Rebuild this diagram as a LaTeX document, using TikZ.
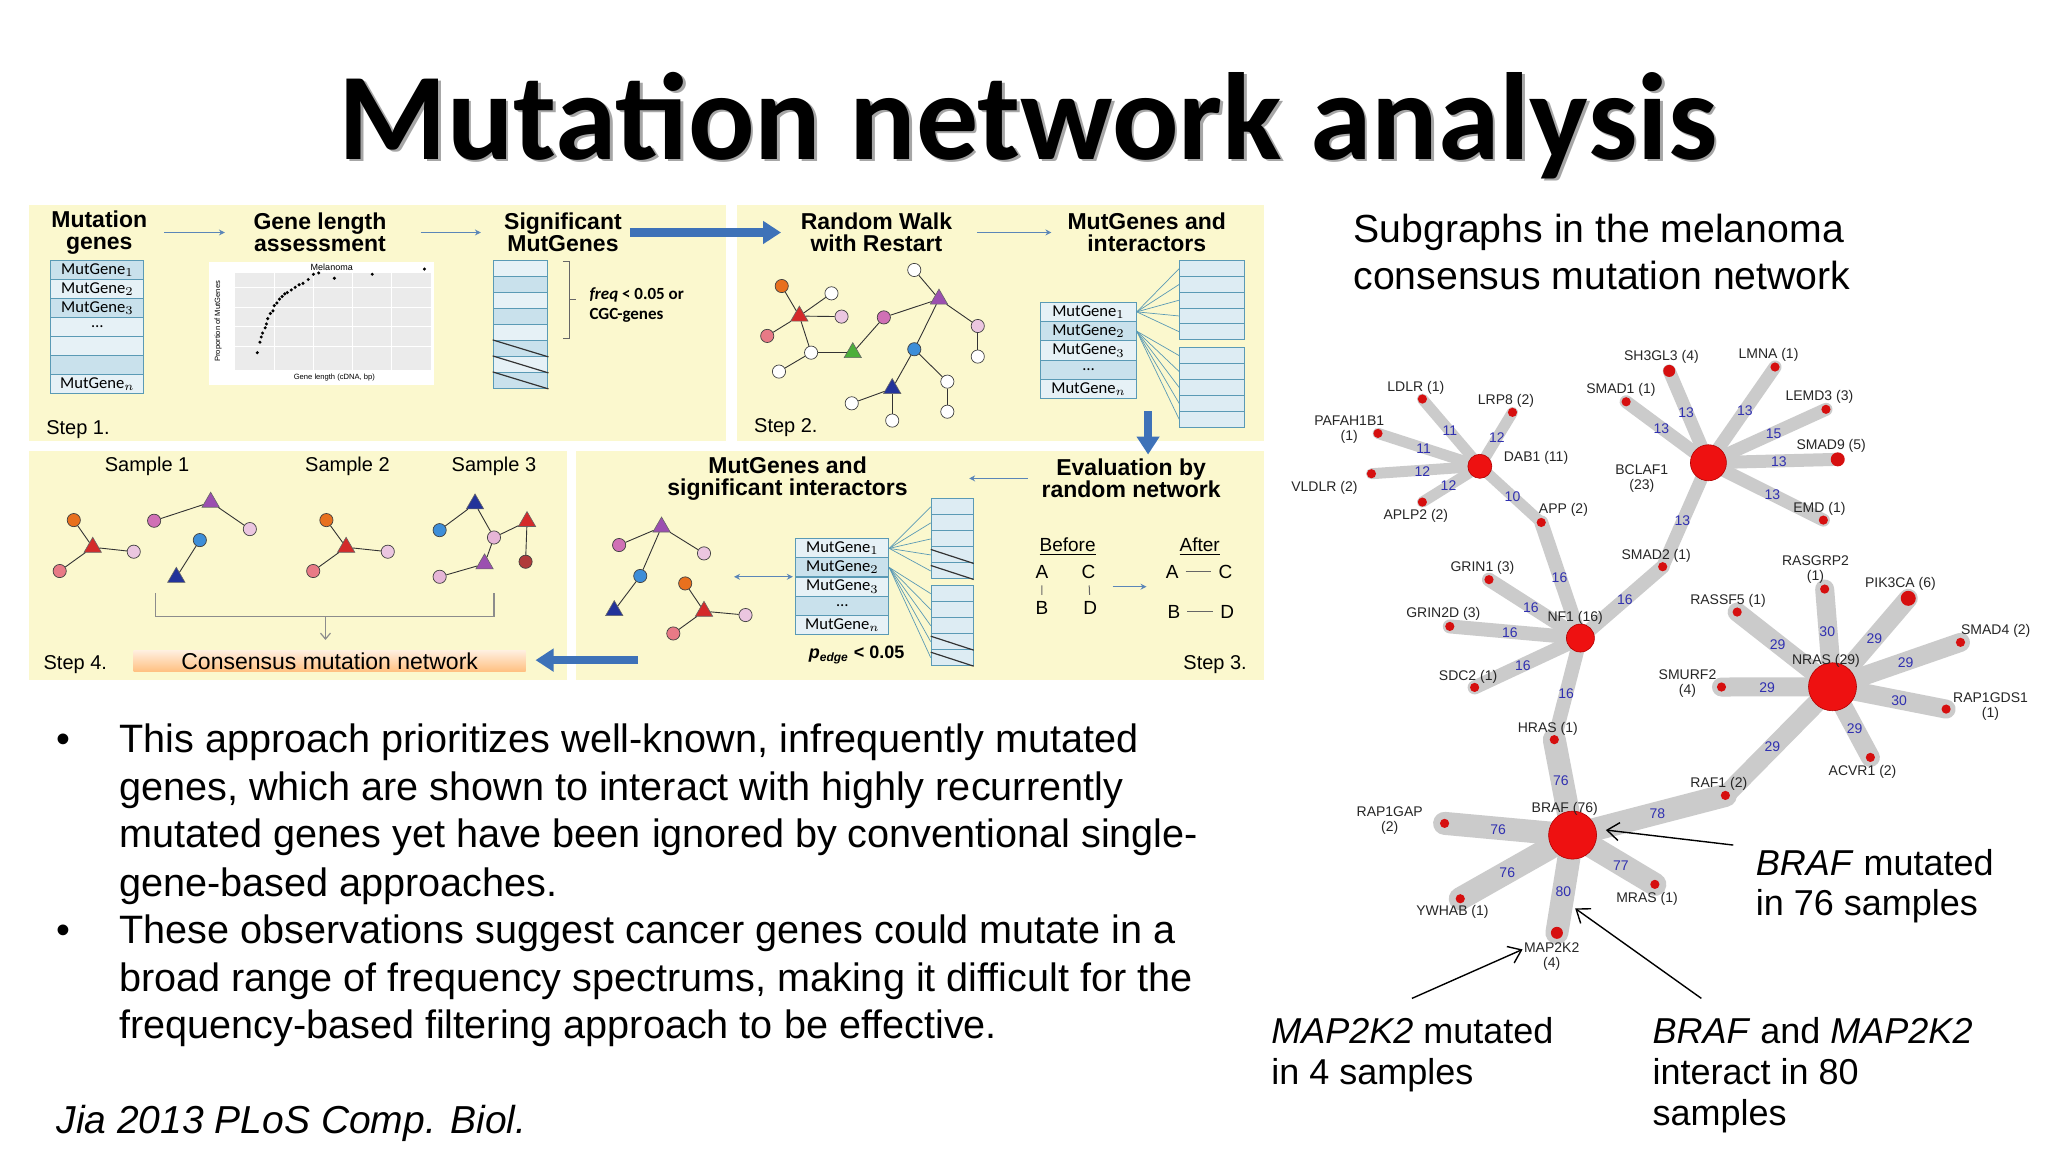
\documentclass[tikz,border=0pt]{standalone}
\usepackage{fontspec}
\setmainfont{Liberation Sans}
\newfontfamily\carl{Carlito}
\usetikzlibrary{arrows.meta,shapes.geometric}
\pgfdeclarelayer{back}\pgfdeclarelayer{bg}\pgfsetlayers{back,bg,main}
\definecolor{panelY}{HTML}{FBF8CE}
\definecolor{arrB}{HTML}{3E72B8}
\definecolor{arrS}{HTML}{5B86B8}
\definecolor{rowA}{HTML}{C9E1EC}
\definecolor{rowB}{HTML}{E6F1F6}
\definecolor{rowE}{HTML}{5A9AB5}
\definecolor{cOr}{HTML}{E8701E}
\definecolor{cRed}{HTML}{D42A2A}
\definecolor{cPur}{HTML}{9B4FB0}
\definecolor{cPink}{HTML}{D070B5}
\definecolor{cPl}{HTML}{EBC6E0}
\definecolor{cPr}{HTML}{E87A86}
\definecolor{cBl}{HTML}{3D8ED8}
\definecolor{cNv}{HTML}{22339A}
\definecolor{cGr}{HTML}{4CAF3A}
\definecolor{cDr}{HTML}{B03A3A}
\definecolor{netG}{HTML}{CBCBCB}
\definecolor{netR}{HTML}{EE1111}
\definecolor{wBlue}{HTML}{3030B0}
\begin{document}
\begin{tikzpicture}[x=0.653pt,y=-0.653pt,
  head/.style={font=\bfseries\fontsize{11.5}{11}\selectfont,align=center},
  steplbl/.style={font=\fontsize{10}{11}\selectfont,anchor=west},
  trow/.style={draw=rowE,line width=0.5pt,inner sep=0pt,anchor=north west,font=\carl\fontsize{8.3}{9}\selectfont},
  gn/.style={circle,draw=black!75,line width=0.35pt,inner sep=0pt,minimum size=6.6pt,fill=#1},
  gt/.style={regular polygon,regular polygon sides=3,draw=black!60,line width=0.3pt,inner sep=0pt,minimum size=10pt,fill=#1},
  ge/.style={draw=black!80,line width=0.45pt},
  bigarrow/.style={draw=arrB,line width=4.2pt,-{Triangle[length=9pt,width=11pt]}},
  smallarrow/.style={draw=arrS,line width=0.6pt,-{Stealth[length=3pt,width=3pt]}},
  hub/.style={circle,fill=netR,draw=red!70!black,line width=0.3pt,inner sep=0pt,minimum size=#1},
  leaf/.style={circle,fill=netR!90!black,inner sep=0pt,minimum size=#1},
  nl/.style={font=\fontsize{7}{7.5}\selectfont,align=center,text=black!85},
  wl/.style={font=\fontsize{7}{7.5}\selectfont,text=wBlue},
  nedge/.style={draw=netG,line width=#1,line cap=round},
  body/.style={font=\fontsize{19.8}{23.8}\selectfont,anchor=base west,inner sep=0pt},
  rtext/.style={font=\fontsize{19.6}{23.8}\selectfont,anchor=base west,inner sep=0pt},
  antext/.style={font=\fontsize{18}{22}\selectfont,anchor=base west,inner sep=0pt},
  annot/.style={draw=black,line width=0.7pt,-{Straight Barb[length=6pt,width=9pt]}}
]
\useasboundingbox (0,0) rectangle (1568,882);
\begin{pgfonlayer}{back}
\fill[white] (0,0) rectangle (1568,882);
\end{pgfonlayer}
% title
\node[font=\carl\bfseries\fontsize{62}{64}\selectfont,text=black!35,anchor=base] at (789,124) {Mutation network analysis};
\node[font=\carl\bfseries\fontsize{62}{64}\selectfont,anchor=base] (title) at (787,122) {Mutation network analysis};
% panels
\fill[panelY] (22,157) rectangle (556,338);
\fill[panelY] (564,157) rectangle (968,338);
\fill[panelY] (22,345) rectangle (434,521);
\fill[panelY] (441,345) rectangle (968,521);
% ---- Step 1
\node[head] (h1) at (76,178) {Mutation\\genes};
\node[head] (h2) at (245,178) {Gene length\\assessment};
\node[head] (h3) at (431,178) {Significant\\MutGenes};
\draw[smallarrow] (125.8,178) coordinate (a1s) -- (172.2,178) coordinate (a1e);
\draw[smallarrow] (322,178) coordinate (a2s) -- (368.2,178) coordinate (a2e);
\foreach \i/\t/\c in {0/MutGene$_1$/rowA,1/MutGene$_2$/rowB,2/MutGene$_3$/rowA,3/\dots/rowB,4//rowB,5//rowA,6/MutGene$_n$/rowB}
  \node[trow,fill=\c,minimum width=46.6pt,minimum height=9.5pt] (ta\i) at (38.5,199+\i*14.57) {\t};
% plot
\fill[white] (159.7,200.3) rectangle (332.6,294.7);
\fill[black!8] (180,209) rectangle (330,283);
\foreach \yy in {220,235,250,265} \draw[white,line width=0.4pt] (180,\yy) -- (330,\yy);
\foreach \xx in {210,240,270,300} \draw[white,line width=0.4pt] (\xx,209) -- (\xx,283);
\node[font=\fontsize{4.5}{5}\selectfont] (pt) at (254,204.5) {Melanoma};
\node[font=\fontsize{3.8}{4}\selectfont] (px) at (256,289) {Gene length (cDNA, bp)};
\node[font=\fontsize{3.8}{4}\selectfont,rotate=90] (py) at (167,246) {Proportion of MutGenes};
\foreach \xx/\yy in {197/270,199/262,200/258,201/255,203/251,204/248,205/244,207/240,209/238,210/234,212/232,214/229,216/227,218/225,220/224,223/222,226/220,229/218,232/217,236/214,240/210,244/209,256/213,285/210,325/206}
  \fill (\xx,\yy) circle (1.3);
% table 2
\foreach \i/\c in {0/rowB,1/rowA,2/rowB,3/rowA,4/rowB,5/rowA,6/rowB,7/rowA}
  \node[trow,fill=\c,minimum width=27.4pt,minimum height=8pt] (tb\i) at (377.2,199+\i*12.25) {};
\foreach \i in {5,6,7} \draw[black!80,line width=0.6pt] (tb\i.north west) -- (tb\i.south east);
\draw[black!60,line width=0.5pt] (431,200) -- (436,200) -- (436,259) -- (431,259) (436,229.5) -- (441,229.5);
\node[font=\carl\bfseries\fontsize{8.5}{10}\selectfont,align=left,anchor=north west] (frq) at (446,215) {\textit{freq} < 0.05 or\\CGC-genes};
\node[steplbl] (s1) at (30,329) {Step 1.};
\draw[bigarrow] (482,178) coordinate (ba1) -- (598,178) coordinate (ba1e);
% ---- Step 2
\node[head] (h4) at (671,178) {Random Walk\\with Restart};
\node[head] (h5) at (878,178) {MutGenes and\\interactors};
\draw[smallarrow] (748,178) coordinate (a3s) -- (805,178) coordinate (a3e);
\node[gn=cOr] (g1) at (598.5,219) {};
\node[gt=cRed] (g2) at (612,242) {};
\node[gn=white] (g3) at (636.6,224.6) {};
\node[gn=cPl] (g4) at (644.3,242.4) {};
\node[gn=cPr] (g5) at (587.4,257.2) {};
\node[gn=white] (g6) at (621,270) {};
\node[gn=white] (g7) at (596.4,284.5) {};
\node[gt=cGr] (g8) at (652.9,270) {};
\node[gn=cPink] (g9) at (676.7,243) {};
\node[gt=cPur] (g10) at (718.9,229) {};
\node[gn=white] (g11) at (700,206.7) {};
\node[gn=cPl] (g12) at (748.6,249.6) {};
\node[gn=white] (g13) at (748.6,273) {};
\node[gn=cBl] (g14) at (700,267.4) {};
\node[gn=white] (g15) at (725.3,292.2) {};
\node[gn=white] (g16) at (725.3,315.2) {};
\node[gt=cNv] (g17) at (683.1,297.5) {};
\node[gn=white] (g18) at (652.1,308.8) {};
\node[gn=white] (g19) at (683.1,322) {};
\foreach \a/\b in {g1/g2,g2/g3,g2/g4,g2/g5,g2/g6,g6/g7,g6/g8,g8/g9,g9/g10,g10/g11,g10/g12,g12/g13,g10/g14,g14/g15,g15/g16,g14/g17,g17/g18,g17/g19}
  \draw[ge] (\a) -- (\b);
\foreach \i/\t/\c in {0/MutGene$_1$/rowB,1/MutGene$_2$/rowA,2/MutGene$_3$/rowB,3/\dots/rowA,4/MutGene$_n$/rowB}
  \node[trow,fill=\c,minimum width=47.7pt,minimum height=9.66pt] (tc\i) at (796.5,231+\i*14.8) {\t};
\foreach \i in {0,...,4} {
  \node[trow,fill=rowB!70!rowA,minimum width=32.2pt,minimum height=7.94pt] (bu\i) at (903,199+\i*12.16) {};
  \node[trow,fill=rowB!70!rowA,minimum width=32.2pt,minimum height=8pt] (bd\i) at (903,265.9+\i*12.26) {};
  \draw[rowE,line width=0.35pt] (tc0.east) -- (bu\i.west);
  \draw[rowE,line width=0.35pt] (tc1.east) -- (bd\i.west);
}
\node[steplbl] (s2) at (572,327) {Step 2.};
\draw[bigarrow] (879,315) coordinate (ba2) -- (879,348) coordinate (ba2e);
% ---- Step 3
\node[head] (h6) at (603,366.5) {MutGenes and\\significant interactors};
\node[head] (h7) at (866,366.5) {Evaluation by\\random network};
\draw[smallarrow] (787,366.3) coordinate (a4s) -- (742,366.3) coordinate (a4e);
\node[gt=cPur] (k1) at (506.5,403.5) {};
\node[gn=cPink] (k2) at (474,417.3) {};
\node[gn=cPl] (k3) at (539,423.7) {};
\node[gn=cBl] (k4) at (490.2,441) {};
\node[gt=cNv] (k5) at (470.3,467.5) {};
\node[gn=cOr] (k6) at (524.6,446.7) {};
\node[gt=cRed] (k7) at (539,468) {};
\node[gn=cPl] (k8) at (570.8,470.9) {};
\node[gn=cPr] (k9) at (515.5,485) {};
\foreach \a/\b in {k1/k2,k1/k3,k1/k4,k4/k5,k6/k7,k7/k8,k7/k9} \draw[ge] (\a) -- (\b);
\foreach \i/\t/\c in {0/MutGene$_1$/rowB,1/MutGene$_2$/rowA,2/MutGene$_3$/rowB,3/\dots/rowA,4/MutGene$_n$/rowB}
  \node[trow,fill=\c,minimum width=46.4pt,minimum height=9.5pt] (td\i) at (609,412.2+\i*14.6) {\t};
\draw[arrS,line width=0.6pt,{Stealth[length=3pt,width=3pt]}-{Stealth[length=3pt,width=3pt]}] (562,441.6) coordinate (dA) -- (607,441.6) coordinate (dB);
\foreach \i in {0,...,4} {
  \node[trow,fill=rowB!70!rowA,minimum width=21pt,minimum height=8pt] (eu\i) at (712.6,381.6+\i*12.26) {};
  \node[trow,fill=rowB!70!rowA,minimum width=21pt,minimum height=8pt] (ed\i) at (712.6,448+\i*12.26) {};
  \draw[rowE,line width=0.35pt] (td0.east) -- (eu\i.west);
  \draw[rowE,line width=0.35pt] (td1.east) -- (ed\i.west);
}
\foreach \i in {3,4} {
  \draw[black!80,line width=0.6pt] ([yshift=-1.5pt]eu\i.north west) -- (eu\i.south east);
  \draw[black!80,line width=0.6pt] ([yshift=-1.5pt]ed\i.north west) -- (ed\i.south east);
}
\node[font=\bfseries\fontsize{9}{10}\selectfont] (pe) at (655.9,501.5) {\textit{p}\textsubscript{\textit{edge}} < 0.05};
\node[font=\fontsize{9.5}{10}\selectfont] (bef) at (817.4,418.6) {\underline{Before}};
\node[font=\fontsize{9.5}{10}\selectfont] (aft) at (918.5,418.6) {\underline{After}};
\node[font=\fontsize{9.5}{10}\selectfont] (bA) at (797.7,437.7) {A};
\node[font=\fontsize{9.5}{10}\selectfont] (bC) at (833.4,437.7) {C};
\node[font=\fontsize{9.5}{10}\selectfont] (bB) at (797.7,465.8) {B};
\node[font=\fontsize{9.5}{10}\selectfont] (bD) at (834.7,465.8) {D};
\draw[black!60,line width=0.5pt] (bA) -- (bB) (bC) -- (bD);
\draw[smallarrow] (851.9,449.2) coordinate (a5s) -- (877.8,449.2) coordinate (a5e);
\node[font=\fontsize{9.5}{10}\selectfont] (fA) at (897.5,437.7) {A};
\node[font=\fontsize{9.5}{10}\selectfont] (fC) at (938.2,437.7) {C};
\node[font=\fontsize{9.5}{10}\selectfont] (fB) at (898.8,468.4) {B};
\node[font=\fontsize{9.5}{10}\selectfont] (fD) at (939.5,468.4) {D};
\draw[black!60,line width=0.5pt] (fA) -- (fC) (fB) -- (fD);
\node[steplbl,anchor=east] (s3) at (960,509.2) {Step 3.};
\draw[bigarrow] (488.4,505.4) coordinate (ba3) -- (410,505.4) coordinate (ba3e);
% ---- Step 4
\node[font=\fontsize{10}{11}\selectfont] (sa1) at (112.6,357.4) {Sample 1};
\node[font=\fontsize{10}{11}\selectfont] (sa2) at (266,357.4) {Sample 2};
\node[font=\fontsize{10}{11}\selectfont] (sa3) at (378.2,357.4) {Sample 3};
\node[gn=cOr] (m1) at (56.5,398.2) {};
\node[gt=cRed] (m2) at (71,419) {};
\node[gn=cPl] (m3) at (102.4,422.4) {};
\node[gn=cPr] (m4) at (45.7,437.2) {};
\node[gt=cPur] (m5) at (161.3,384.5) {};
\node[gn=cPink] (m6) at (118,398.7) {};
\node[gn=cPl] (m7) at (191.3,405.1) {};
\node[gn=cBl] (m8) at (153,413.5) {};
\node[gt=cNv] (m9) at (135,442) {};
\node[gn=cOr] (n1) at (249.9,398.2) {};
\node[gt=cRed] (n2) at (265,419) {};
\node[gn=cPl] (n3) at (296.9,422.4) {};
\node[gn=cPr] (n4) at (239.8,437.2) {};
\node[gt=cNv] (q1) at (363.7,385.8) {};
\node[gn=cBl] (q2) at (336.6,405.9) {};
\node[gn=cPl!80!cPink] (q3) at (378.2,411.5) {};
\node[gt=cRed] (q4) at (403.5,399.3) {};
\node[gn=cDr] (q5) at (402.4,430.1) {};
\node[gt=cPur] (q6) at (371,431.7) {};
\node[gn=cPl!80!cPink] (q7) at (336.6,441.6) {};
\foreach \a/\b in {m1/m2,m2/m3,m2/m4,m5/m6,m5/m7,m8/m9,n1/n2,n2/n3,n2/n4,q1/q2,q1/q3,q3/q4,q4/q5,q3/q6,q6/q7}
  \draw[ge] (\a) -- (\b);
\draw[black!45,line width=0.6pt] (119,454.3) -- (119,472.2) -- (378.2,472.2) -- (378.2,454.3);
\draw[black!45,line width=0.6pt,-{Straight Barb[length=3pt,width=5pt]}] (249.2,472.2) coordinate (cb) -- (249.2,490) coordinate (cbe);
\node[top color=orange!12,bottom color=orange!50,minimum width=195.9pt,minimum height=10.8pt,inner sep=0pt,font=\fontsize{11.5}{12}\selectfont] (cons) at (252.4,506) {Consensus mutation network};
\node[steplbl] (s4) at (28,509.2) {Step 4.};
% ---- Bullets
\node[body] (b1) at (43,576) {•};
\node[body] (t1) at (91,576) {This approach prioritizes well-known, infrequently mutated};
\node[body] (t2) at (91,613) {genes, which are shown to interact with highly recurrently};
\node[body] (t3) at (91,649) {mutated genes yet have been ignored by conventional single-};
\node[body] (t4) at (91,686) {gene-based approaches.};
\node[body] (b2) at (43,722) {•};
\node[body] (t5) at (91,722) {These observations suggest cancer genes could mutate in a};
\node[body] (t6) at (91,759) {broad range of frequency spectrums, making it difficult for the};
\node[body] (t7) at (91,795) {frequency-based filtering approach to be effective.};
\node[body,font=\itshape\fontsize{19.5}{22}\selectfont] (cit) at (43,868) {Jia 2013 PLoS Comp. Biol.};
% ---- right texts
\node[rtext] (r1) at (1036,186) {Subgraphs in the melanoma};
\node[rtext] (r2) at (1036,222) {consensus mutation network};
% ---- network
\foreach \n/\x/\y in {DAB1/1133/357,BCLAF1/1308/354.3,NF1/1210/488.5,NRAS/1403/525.8,BRAF/1204/639.4,
 LDLR/1089/305.5,LRP8/1158/315.7,PAFAH/1055/331.8,VLDLR/1050/362.7,APLP2/1089/384.4,APP/1180/400,
 SH3GL3/1278/284,LMNA/1359/281,SMAD1/1245/307.6,LEMD3/1398/313.4,SMAD9/1407/351.7,EMD/1396/398.2,SMAD2/1273/433.9,
 GRIN1/1140/443.8,GRIN2D/1110/479.6,SDC2/1129/526.3,HRAS/1190/566.3,
 RASSF5/1330/468.6,RASGRP2/1397/451,PIK3CA/1461/458.1,SMAD4/1501/491.8,SMURF2/1318/526,RAP1GDS1/1490/542.9,ACVR1/1432/579.9,
 RAF1/1321/609,RAP1GAP/1106/630.4,YWHAB/1118/688.1,MAP2K2/1192/714.2,MRAS/1267/677.1}
  \coordinate (c\n) at (\x,\y);
\begin{pgfonlayer}{bg}
\foreach \b in {LDLR,LRP8,PAFAH,VLDLR,APLP2,APP} \draw[nedge=5.5pt] (cDAB1) -- (c\b);
\foreach \b in {SH3GL3,LMNA,SMAD1,LEMD3,SMAD9,EMD,SMAD2} \draw[nedge=6.5pt] (cBCLAF1) -- (c\b);
\foreach \b in {APP,GRIN1,GRIN2D,SDC2,HRAS,SMAD2} \draw[nedge=7pt] (cNF1) -- (c\b);
\foreach \b in {RASSF5,RASGRP2,PIK3CA,SMAD4,SMURF2,RAP1GDS1,ACVR1,RAF1} \draw[nedge=9.5pt] (cNRAS) -- (c\b);
\foreach \b in {HRAS,RAF1,RAP1GAP,YWHAB,MAP2K2,MRAS} \draw[nedge=11.5pt] (cBRAF) -- (c\b);
\end{pgfonlayer}
\node[hub=12pt] (DAB1) at (cDAB1) {};
\node[hub=18pt] (BCLAF1) at (cBCLAF1) {};
\node[hub=14pt] (NF1) at (cNF1) {};
\node[hub=24pt] (NRAS) at (cNRAS) {};
\node[hub=24pt] (BRAF) at (cBRAF) {};
\foreach \b in {LDLR,LRP8,PAFAH,VLDLR,APLP2,APP,LMNA,SMAD1,LEMD3,EMD,SMAD2,GRIN1,GRIN2D,SDC2,HRAS,RASSF5,RASGRP2,SMAD4,SMURF2,RAP1GDS1,ACVR1,RAF1,RAP1GAP,YWHAB,MRAS}
  \node[leaf=4.6pt] (\b) at (c\b) {};
\node[leaf=6pt] (SH3GL3) at (cSH3GL3) {};
\node[leaf=7pt] (SMAD9) at (cSMAD9) {};
\node[leaf=7.5pt] (PIK3CA) at (cPIK3CA) {};
\node[leaf=6pt] (MAP2K2) at (cMAP2K2) {};
% node labels
\foreach \t/\x/\y in {LDLR (1)/1084/296.8,LRP8 (2)/1153/306.8,PAFAH1B1\\(1)/1033/329,VLDLR (2)/1014/373.2,APLP2 (2)/1084/394.9,DAB1 (11)/1176/350.4,APP (2)/1197/390.5,
 SH3GL3 (4)/1272/273.6,LMNA (1)/1354/271.8,SMAD1 (1)/1241/298.6,LEMD3 (3)/1393/303.7,SMAD9 (5)/1402/341.3,BCLAF1\\(23)/1257/366.5,EMD (1)/1393/389.7,SMAD2 (1)/1268/425.5,
 GRIN1 (3)/1135/434.4,GRIN2D (3)/1105/470.1,NF1 (16)/1206/472.7,SDC2 (1)/1124/518.1,HRAS (1)/1185/557.7,
 RASGRP2\\(1)/1390/435.8,PIK3CA (6)/1455/447.2,RASSF5 (1)/1323/459.9,SMAD4 (2)/1528/482.9,NRAS (29)/1398/506.1,SMURF2\\(4)/1292/523.3,RAP1GDS1\\(1)/1524/541.3,ACVR1 (2)/1426/590.8,
 RAF1 (2)/1316/599.8,BRAF (76)/1198/619,RAP1GAP\\(2)/1064/627.9,YWHAB (1)/1112/698,MRAS (1)/1261/687.9,MAP2K2\\(4)/1188/732.5}
  \node[nl] at (\x,\y) {\t};
% weights
\foreach \t/\x/\y in {11/1110/329.8,12/1146/335.1,11/1090/343.8,12/1089/360.9,12/1109/372.1,10/1158/380.3,
 13/1291/316.2,13/1336/314.5,13/1272/328.5,15/1358/332.3,13/1362/353.8,13/1357/378.8,13/1288/399,
 16/1194/442,16/1172/465,16/1244/459.4,16/1156/484.4,16/1166/509.7,16/1199/530.9,
 30/1399/483.7,29/1435/488.8,29/1361/493.4,29/1459/507.4,29/1353/526.5,30/1454/536.5,29/1420/558.2,29/1357/571.7,
 76/1195/597.8,78/1269/623.3,76/1147/635,77/1241/662.9,76/1154/668,80/1197/682.7}
  \node[wl] at (\x,\y) {\t};
% annotations
\node[antext] (an1) at (1344,670) {\textit{BRAF} mutated};
\node[antext] (an2) at (1344,701) {in 76 samples};
\coordinate (ar1) at (1327,647);
\draw[annot] (ar1) -- (1229.5,635.5);
\node[antext] (an3) at (973,799) {\textit{MAP2K2} mutated};
\node[antext] (an4) at (973,830) {in 4 samples};
\coordinate (ar2) at (1081,764.4);
\draw[annot] (ar2) -- (1165.7,726.9);
\node[antext] (an5) at (1265,799) {\textit{BRAF} and \textit{MAP2K2}};
\node[antext] (an6) at (1265,830) {interact in 80};
\node[antext] (an7) at (1265,862) {samples};
\coordinate (ar3) at (1302.6,764.4);
\draw[annot] (ar3) -- (1206,695.5);
\end{tikzpicture}
\end{document}
